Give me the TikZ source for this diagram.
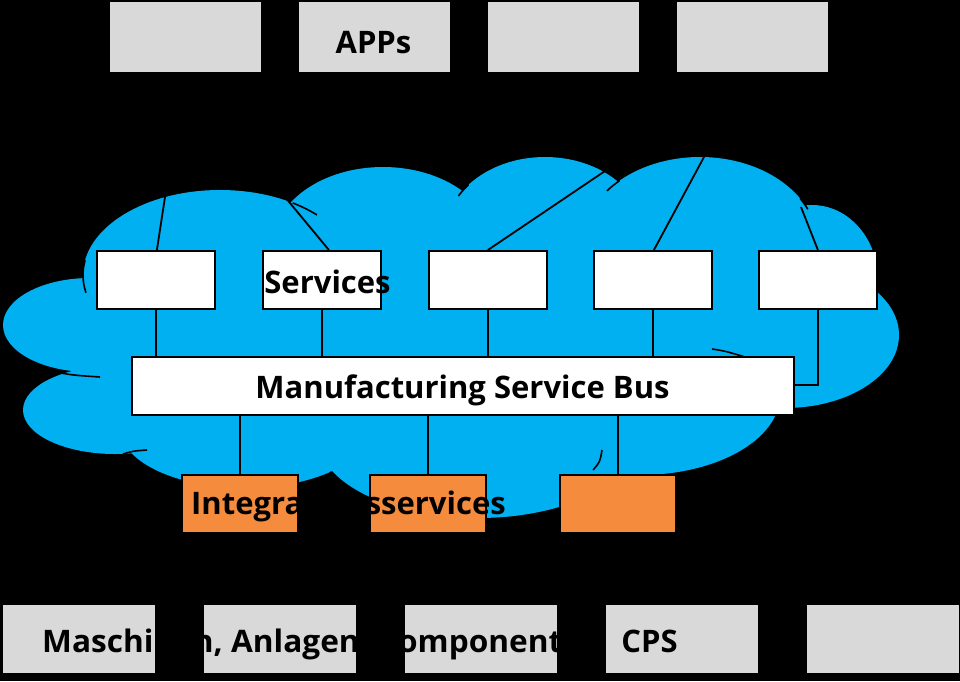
\documentclass[tikz,border=0pt]{standalone}
\usepackage{fontspec}
\setmainfont{Open Sans}
\usetikzlibrary{calc}
\definecolor{appgray}{HTML}{D9D9D9}
\definecolor{cloudc}{HTML}{00B0F0}
\definecolor{orangec}{HTML}{F58B3C}
\tikzset{
  graybox/.style={fill=appgray, draw=none, anchor=north west, inner sep=0pt, minimum height=68pt, minimum width=152pt},
  topbox/.style={graybox, minimum height=70pt, minimum width=151pt},
  svcbox/.style={fill=white, draw=black, line width=1.8pt, anchor=north west, inner sep=0pt, minimum width=118pt, minimum height=58pt},
  busbox/.style={svcbox, minimum width=662pt},
  intbox/.style={fill=orangec, draw=black, line width=1.8pt, anchor=north west, inner sep=0pt, minimum width=116pt, minimum height=58pt},
  lbl/.style={font=\fontsize{31}{36}\selectfont\bfseries, text=black, inner sep=0pt, anchor=base},
  conn/.style={draw=black, line width=1.8pt},
  arcline/.style={draw=black, line width=1.6pt},
  bump/.style={fill=cloudc}
}
\begin{document}
\begin{tikzpicture}[x=1pt,y=-1pt]
\fill[black] (0,0) rectangle (960,681);
\useasboundingbox (0,0) rectangle (960,681);
% top application boxes
\node[topbox] (a1) at (110,2) {};
\node[topbox] (a2) at (299,2) {};
\node[topbox] (a3) at (488,2) {};
\node[topbox] (a4) at (677,2) {};
% cloud
\fill[bump] (90,325) ellipse [x radius=87pt, y radius=47pt];
\fill[bump] (115,410) ellipse [x radius=92pt, y radius=44pt];
\fill[bump] (245,428) ellipse [x radius=125pt, y radius=60pt];
\fill[bump] (478,438) ellipse [x radius=160pt, y radius=80pt];
\fill[bump] (640,395) ellipse [x radius=140pt, y radius=80pt];
\fill[bump] (785,335) ellipse [x radius=114pt, y radius=73pt];
\fill[bump] (812,280) ellipse [x radius=66pt, y radius=75pt];
\fill[bump] (700,245) ellipse [x radius=118pt, y radius=88pt];
\fill[bump] (545,235) ellipse [x radius=100pt, y radius=78pt];
\fill[bump] (383,245) ellipse [x radius=110pt, y radius=78pt];
\fill[bump] (220,275) ellipse [x radius=137pt, y radius=85pt];
\fill[bump] (90,300) -- (200,230) -- (400,215) -- (550,210) -- (700,210) -- (820,250) -- (850,340) -- (780,400) -- (640,440) -- (480,470) -- (250,450) -- (100,410) -- (60,340) -- cycle;
% inner arcs of the cloud
\draw[arcline] plot[domain=170:192, samples=20] ({220+137*cos(\x)},{275-85*sin(\x)});
\draw[arcline] plot[domain=45:58, samples=20] ({220+137*cos(\x)},{275-85*sin(\x)});
\draw[arcline] plot[domain=140:150, samples=20] ({545+100*cos(\x)},{235-78*sin(\x)});
\draw[arcline] plot[domain=133:142, samples=20] ({700+118*cos(\x)},{245-88*sin(\x)});
\draw[arcline] plot[domain=24:32, samples=20] ({700+118*cos(\x)},{245-88*sin(\x)});
\draw[arcline] (712,349) .. controls (725,351) .. (745,357);
\draw[arcline] (602,450) .. controls (600,462) .. (593,470);
\draw[arcline] (330,472) .. controls (340,480) .. (353,492);
\draw[arcline] (123,454) .. controls (133,451) .. (147,450);
\draw[arcline] (47,370) .. controls (70,375) .. (100,377);
% service boxes
\node[svcbox] (s1) at (96,250) {};
\node[svcbox] (s2) at (262,250) {};
\node[svcbox] (s3) at (428,250) {};
\node[svcbox] (s4) at (593,250) {};
\node[svcbox] (s5) at (758,250) {};
% bus
\node[busbox] (bus) at (131,356) {};
% integration boxes
\node[intbox] (i1) at (181,474) {};
\node[intbox] (i2) at (369,474) {};
\node[intbox] (i3) at (559,474) {};
% bottom boxes
\node[graybox] (m1) at (3,605) {};
\node[graybox] (m2) at (204,605) {};
\node[graybox] (m3) at (405,605) {};
\node[graybox] (m4) at (606,605) {};
\node[graybox] (m5) at (807,605) {};
% connector ends on the cloud rim
\coordinate (r1) at (165,197);
\coordinate (r2) at (285,197);
\coordinate (r3) at (608,169);
\coordinate (r4) at (704,157);
\coordinate (r5) at (801,207);
\draw[conn] (s1.north) ++(1,0) -- (r1);
\draw[conn] ($(s2.north)+(7,0)$) -- (r2);
\draw[conn] (s3.north) -- (r3);
\draw[conn] (s4.north) ++(1,0) -- (r4);
\draw[conn] (s5.north) -- (r5);
% services to bus
\draw[conn] (s1.south) -- (s1.south |- bus.north);
\draw[conn] (s2.south) -- (s2.south |- bus.north);
\draw[conn] (s3.south) -- (s3.south |- bus.north);
\draw[conn] (s4.south) -- (s4.south |- bus.north);
\draw[conn] (s5.south) -- (s5.south |- 0,385) -- (bus.east |- 0,385);
% bus to integration services
\draw[conn] (i1.north) -- (i1.north |- bus.south);
\draw[conn] (i2.north) -- (i2.north |- bus.south);
\draw[conn] (i3.north) -- (i3.north |- bus.south);
% labels
\node[lbl] (tapps) at (373.5,53) {APPs};
\node[lbl] (tsvc) at (327.5,293) {Services};
\node[lbl] (tbus) at (462.5,398) {Manufacturing Service Bus};
\node[lbl] (tint) at (348.5,514) {Integrationsservices};
\node[lbl, anchor=base west] (tmach) at (42,652) {\addfontfeature{FakeStretch=1.02}Maschinen, Anlagen, Komponenten};
\node[lbl] (tcps) at (649.5,652) {CPS};
\end{tikzpicture}
\end{document}
